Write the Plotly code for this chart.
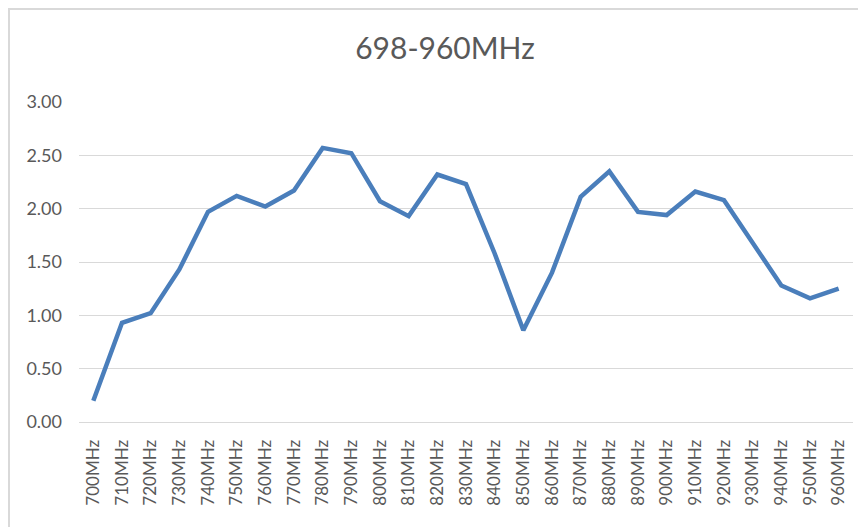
import plotly.graph_objects as go

categories = ["700MHz", "710MHz", "720MHz", "730MHz", "740MHz", "750MHz", "760MHz",
              "770MHz", "780MHz", "790MHz", "800MHz", "810MHz", "820MHz", "830MHz",
              "840MHz", "850MHz", "860MHz", "870MHz", "880MHz", "890MHz", "900MHz",
              "910MHz", "920MHz", "930MHz", "940MHz", "950MHz", "960MHz"]
values = [0.20, 0.93, 1.02, 1.43, 1.97, 2.12, 2.02,
          2.17, 2.57, 2.52, 2.07, 1.93, 2.32, 2.23,
          1.58, 0.86, 1.40, 2.11, 2.35, 1.97, 1.94,
          2.16, 2.08, 1.68, 1.28, 1.16, 1.25]
y_ticks = [0, 0.5, 1.0, 1.5, 2.0, 2.5, 3.0]
title_text = "698-960MHz"

font_family = "Lato, Carlito, Calibri, sans-serif"

fig = go.Figure()
fig.add_trace(go.Scatter(
    x=categories, y=values, mode="lines",
    line=dict(color="#4A7EBB", width=4.5),
    showlegend=False,
))

fig.update_layout(
    width=858, height=519,
    margin=dict(l=71, r=13, t=94, b=105),
    paper_bgcolor="white", plot_bgcolor="white",
    title=dict(text=title_text, x=0.5093, xanchor="center", y=0.922, yanchor="middle",
               font=dict(family=font_family, size=30, color="#595959")),
    font=dict(family=font_family, color="#595959"),
    xaxis=dict(
        type="category", tickangle=-90, showgrid=False,
        showline=True, linecolor="#D9D9D9", linewidth=1,
        ticks="", tickfont=dict(size=17, color="#595959"),
        range=[-0.5, len(categories) - 0.5],
        ticklabelstandoff=10,
    ),
    yaxis=dict(
        range=[0, 3.0], tickvals=y_ticks, tickformat=".2f",
        showgrid=True, gridcolor="#D9D9D9", gridwidth=1,
        zeroline=False, showline=False, ticks="",
        tickfont=dict(size=18, color="#595959"),
        ticklabelstandoff=16,
    ),
    shapes=[
        dict(type="line", xref="paper", yref="paper",
             x0=-71 / 774, x1=1.02, y0=(94 - 1) / 320 + 1, y1=(94 - 1) / 320 + 1,
             line=dict(color="#D9D9D9", width=2), layer="below"),
        dict(type="line", xref="paper", yref="paper",
             x0=-70 / 774, x1=-70 / 774, y0=-0.35, y1=(94 - 1) / 320 + 1,
             line=dict(color="#D9D9D9", width=2), layer="below"),
    ],
)

fig.write_html("out.html")
